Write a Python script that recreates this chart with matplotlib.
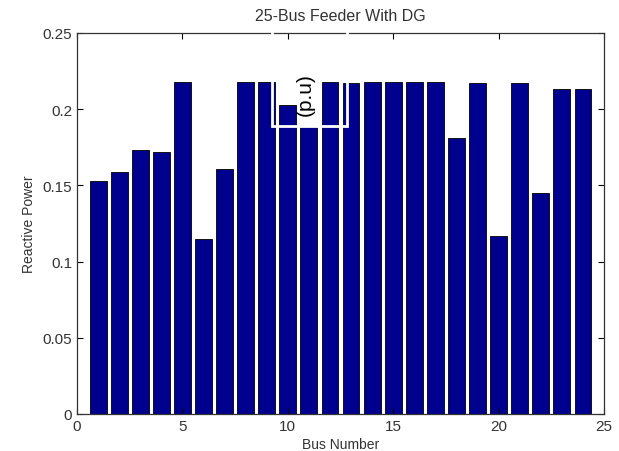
import matplotlib
matplotlib.use("Agg")
import matplotlib.pyplot as plt
from matplotlib.patches import Rectangle

plt.rcParams['font.family'] = ['Liberation Sans', 'DejaVu Sans']

bus = list(range(1, 25))
q = [0.153, 0.159, 0.173, 0.172, 0.218, 0.115, 0.161, 0.218, 0.218, 0.203,
     0.188, 0.218, 0.217, 0.218, 0.218, 0.218, 0.218, 0.181, 0.217, 0.117,
     0.217, 0.145, 0.213, 0.213]
yticks = [0, 0.05, 0.1, 0.15, 0.2, 0.25]
ytick_labels = ["0", "0.05", "0.1", "0.15", "0.2", "0.25"]

fig = plt.figure(figsize=(6.19, 4.52), dpi=100)
ax = fig.add_axes([0.1244, 0.0819, 0.8514, 0.8429])

ax.bar(bus, q, width=0.8, color="#00008f", edgecolor="black", linewidth=0.6)

ax.set_xlim(0, 25)
ax.set_ylim(0, 0.25)
ax.set_xticks(range(0, 26, 5))
ax.set_yticks(yticks)
ax.set_yticklabels(ytick_labels)
ax.tick_params(direction="in", top=True, right=True, labelsize=11, length=4,
               labelcolor="#333333")
for s in ax.spines.values():
    s.set_linewidth(0.9)
    s.set_color("#333333")

ax.set_xlabel("Bus Number", fontsize=10, labelpad=3, color="#333333")
ax.set_ylabel("Reactive Power", fontsize=10, labelpad=5, color="#333333")
ax.set_title("25-Bus Feeder With DG", fontsize=11.5, pad=9, color="#333333")

# the stray white box with "(p.u)" left over from the y label
ax.add_patch(Rectangle((9.25, 0.189), 3.56, 0.0635, fill=False,
                       edgecolor="white", linewidth=2, clip_on=False, zorder=5))
ax.text(10.82, 0.21, "(p.u)", rotation=90, fontsize=15, ha="center",
        va="center", zorder=6)

fig.savefig("out.png", dpi=100)
